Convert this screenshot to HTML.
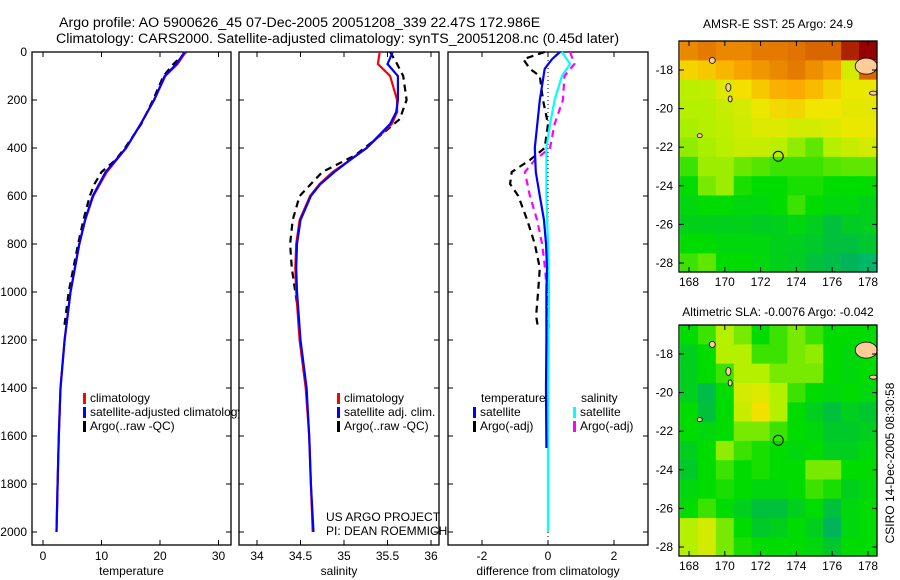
<!DOCTYPE html>
<html><head><meta charset="utf-8"><style>
body{margin:0;background:#fff}
svg{display:block;font-family:"Liberation Sans",sans-serif}
</style></head><body>
<svg id="fig" width="900" height="580" viewBox="0 0 900 580" xmlns="http://www.w3.org/2000/svg">
<rect width="900" height="580" fill="#fff"/>
<text x="59" y="27" font-size="14.2">Argo profile: AO 5900626_45 07-Dec-2005 20051208_339 22.47S 172.986E</text>
<text x="56" y="43" font-size="14.2">Climatology: CARS2000. Satellite-adjusted climatology: synTS_20051208.nc (0.45d later)</text>
<g id="g"></g>
</svg>
<script>
// ---- profile data ----
const depthT=[0,50,100,200,300,400,500,600,700,800,1000,1200,1400,1600,1800,2000];
const tempClim=[24.4,23,20.9,19,16.7,14.2,10.9,8.6,7.2,6.2,4.7,3.7,3.0,2.7,2.5,2.3];
const tempSat=[24.2,22.8,20.8,19,16.7,14.2,10.7,8.5,7.2,6.2,4.7,3.7,3.0,2.7,2.5,2.3];
const depthA=[0,50,100,200,300,400,450,500,550,600,700,800,1000,1150];
const tempArgo=[24.5,22.3,20.6,18.8,16.8,14.0,12.4,10.0,8.8,8.0,6.9,6.0,4.4,3.6];
const depthS=[0,50,100,200,250,300,400,450,500,550,600,700,800,900,1000,1200,1400,1600,1800,2000];
const salClim=[35.41,35.39,35.53,35.61,35.61,35.55,35.26,35.07,34.87,34.72,34.61,34.49,34.45,34.44,34.45,34.49,34.56,34.6,34.62,34.64];
const salSat=[35.56,35.5,35.62,35.62,35.6,35.53,35.26,35.07,34.89,34.73,34.62,34.5,34.46,34.45,34.46,34.5,34.57,34.6,34.62,34.65];
const depthSA=[0,50,100,200,280,350,430,500,600,700,800,900,1000,1100];
const salArgo=[35.53,35.61,35.68,35.72,35.64,35.41,35.13,34.75,34.49,34.41,34.38,34.4,34.44,34.48];
const depthD=[0,30,70,200,400,500,600,700,800,900,1000,1200,1400,1650];
const dTempSat=[0.36,0.12,-0.1,-0.25,-0.4,-0.37,-0.25,-0.12,-0.06,-0.03,-0.05,-0.05,-0.06,-0.05];
const depthDS=[0,50,100,200,300,400,600,800,1000,1500,2000];
const dSalSat=[0.42,0.67,0.42,0.2,0.06,-0.05,-0.05,0,0.03,0,0];
const depthDA=[0,30,70,100,200,300,400,450,500,550,600,700,800,900,1000,1100,1150];
const dTempArgo=[-0.1,-0.75,-0.55,-0.25,-0.15,0,-0.1,-0.55,-1.1,-1.15,-0.9,-0.63,-0.4,-0.25,-0.3,-0.36,-0.3];
const depthDM=[0,50,100,200,300,400,450,500,600,700,800,900,1000,1100,1150];
const dSalArgo=[0.67,0.8,0.5,0.45,0.2,0.06,-0.4,-0.7,-0.55,-0.33,-0.18,-0.09,-0.03,0,0.03];
// ---- map data (rows lat -17..-28, cols lon 168..178), normalised 0..1 ----
const mapLats=[-17,-18,-19,-20,-21,-22,-23,-24,-25,-26,-27,-28];
const mapLons=[168,169,170,171,172,173,174,175,176,177,178];
const sstGrid=[
[0.8,0.82,0.8,0.8,0.82,0.82,0.83,0.85,0.85,0.95,1],
[0.68,0.7,0.73,0.76,0.78,0.8,0.82,0.79,0.76,0.6,0.85],
[0.56,0.57,0.62,0.66,0.7,0.74,0.75,0.72,0.68,0.64,0.64],
[0.55,0.55,0.58,0.6,0.64,0.67,0.68,0.65,0.65,0.63,0.63],
[0.54,0.55,0.57,0.59,0.62,0.62,0.6,0.6,0.62,0.64,0.64],
[0.52,0.54,0.56,0.58,0.58,0.56,0.52,0.48,0.55,0.58,0.6],
[0.45,0.53,0.53,0.49,0.47,0.45,0.45,0.45,0.47,0.48,0.48],
[0.4,0.5,0.53,0.42,0.4,0.4,0.42,0.42,0.4,0.4,0.4],
[0.38,0.4,0.4,0.38,0.38,0.4,0.45,0.4,0.38,0.38,0.36],
[0.36,0.36,0.35,0.36,0.34,0.35,0.38,0.35,0.3,0.34,0.35],
[0.4,0.4,0.38,0.38,0.38,0.36,0.35,0.33,0.3,0.3,0.32],
[0.45,0.48,0.4,0.4,0.38,0.36,0.34,0.3,0.28,0.25,0.22]];
const slaGrid=[
[0.4,0.45,0.55,0.5,0.4,0.45,0.5,0.45,0.4,0.4,0.4],
[0.35,0.4,0.55,0.55,0.45,0.45,0.5,0.52,0.4,0.38,0.4],
[0.35,0.4,0.45,0.55,0.55,0.5,0.5,0.5,0.4,0.38,0.4],
[0.35,0.28,0.4,0.6,0.62,0.55,0.45,0.4,0.38,0.4,0.38],
[0.4,0.3,0.4,0.58,0.66,0.55,0.4,0.35,0.3,0.35,0.32],
[0.4,0.38,0.4,0.5,0.5,0.45,0.4,0.38,0.33,0.33,0.35],
[0.35,0.4,0.52,0.45,0.42,0.4,0.38,0.4,0.35,0.35,0.38],
[0.33,0.4,0.45,0.4,0.42,0.4,0.4,0.5,0.5,0.4,0.4],
[0.38,0.4,0.42,0.4,0.38,0.38,0.4,0.45,0.42,0.35,0.38],
[0.4,0.45,0.4,0.35,0.3,0.3,0.35,0.4,0.3,0.38,0.4],
[0.55,0.6,0.5,0.4,0.33,0.35,0.4,0.35,0.25,0.38,0.4],
[0.55,0.6,0.5,0.42,0.4,0.4,0.4,0.38,0.32,0.4,0.4]];
const depthTicks=[0,200,400,600,800,1000,1200,1400,1600,1800,2000];
const tempTicks=[0,10,20,30];
const salTicks=[34,34.5,35,35.5,36];
const diffTicks=[-2,0,2];
const latTicks=[-18,-20,-22,-24,-26,-28];
const lonTicks=[168,170,172,174,176,178];

const NS='http://www.w3.org/2000/svg';
const G=document.getElementById('g');
function mk(tag,attrs,parent){const e=document.createElementNS(NS,tag);for(const k in attrs)e.setAttribute(k,attrs[k]);(parent||G).appendChild(e);return e;}
const yD=d=>52+d*0.24;
const P1={x0:32,x1:231,sx:v=>43+v*5.85};
const P2={x0:239,x1:439,sx:v=>257+(v-34)*87};
const P3={x0:448,x1:648,sx:v=>548+v*33};
const pTop=52,pBot=545;

function panel(P,name,ticks,lab,xlabel){
  const r=mk('rect',{x:P.x0,y:pTop,width:P.x1-P.x0,height:pBot-pTop,fill:'#fff',stroke:'#000','stroke-width':1.3});
  
  
  ticks.forEach((t,i)=>{const x=P.sx(t);
    mk('line',{x1:x,x2:x,y1:pTop,y2:pTop+5,stroke:'#000'});
    mk('line',{x1:x,x2:x,y1:pBot,y2:pBot-5,stroke:'#000'});
    const tx=mk('text',{x:x,y:pBot+15,'font-size':12,'text-anchor':'middle'});tx.textContent=lab[i];
    
    
  });
  depthTicks.forEach(d=>{mk('line',{x1:P.x0,x2:P.x0+5,y1:yD(d),y2:yD(d),stroke:'#000'});mk('line',{x1:P.x1,x2:P.x1-5,y1:yD(d),y2:yD(d),stroke:'#000'});});
  const xl=mk('text',{x:(P.x0+P.x1)/2,y:pBot+30,'font-size':12,'text-anchor':'middle'});xl.textContent=xlabel;
  
  
}
function line(P,vals,deps,color,dash,name){
  const pts=vals.map((v,i)=>P.sx(v).toFixed(1)+','+yD(deps[i]).toFixed(1)).join(' ');
  const a={points:pts,fill:'none',stroke:color,'stroke-width':2.2};
  if(dash)a['stroke-dasharray']='7,5';
  const e=mk('polyline',a);
  
  
}
function legend(x,y,color,text,name){
  mk('rect',{x:x,y:y-5,width:3,height:11,fill:color});
  const t=mk('text',{x:x+7,y:y+4,'font-size':12});t.textContent=text;
  
  
}
// panel 1
panel(P1,'temperature-panel',tempTicks,['0','10','20','30'],'temperature');
depthTicks.forEach(d=>{const t=mk('text',{x:27,y:yD(d)+4,'font-size':12,'text-anchor':'end'});t.textContent=d;
  
  });
line(P1,tempArgo,depthA,'#000',true,'temp-argo-line');
line(P1,tempClim,depthT,'#f00',false,'temp-climatology-line');
line(P1,tempSat,depthT,'#00f',false,'temp-satellite-line');
legend(83,398,'#f00','climatology','legend-climatology');
legend(83,412,'#00f','satellite-adjusted climatology','legend-satellite-adjusted');
legend(83,426,'#000','Argo(..raw -QC)','legend-argo');
// panel 2
panel(P2,'salinity-panel',salTicks,['34','34.5','35','35.5','36'],'salinity');
line(P2,salArgo,depthSA,'#000',true,'sal-argo-line');
line(P2,salClim,depthS,'#f00',false,'sal-climatology-line');
line(P2,salSat,depthS,'#00f',false,'sal-satellite-line');
legend(337,398,'#f00','climatology','legend2-climatology');
legend(337,412,'#00f','satellite adj. clim.','legend2-satellite');
legend(337,426,'#000','Argo(..raw -QC)','legend2-argo');
[['US ARGO PROJECT',517],['PI: DEAN ROEMMICH',531]].forEach(a=>{const t=mk('text',{x:326,y:a[1]+4,'font-size':12});t.textContent=a[0];
  
  });
// panel 3
panel(P3,'difference-panel',diffTicks,['-2','0','2'],'difference from climatology');
mk('line',{x1:548,x2:548,y1:pTop,y2:pBot,stroke:'#000','stroke-dasharray':'1,3'});
line(P3,dTempArgo,depthDA,'#000',true,'dtemp-argo-line');
line(P3,dSalArgo,depthDM,'#f0f',true,'dsal-argo-line');
line(P3,dSalSat,depthDS,'#0ff',false,'dsal-satellite-line');
line(P3,dTempSat,depthD,'#00f',false,'dtemp-satellite-line');
[['temperature',481,402],['salinity',581,402]].forEach(a=>{const t=mk('text',{x:a[1],y:a[2],'font-size':12});t.textContent=a[0];
  
  });
legend(473,412,'#00f','satellite','legend3-temp-satellite');
legend(473,426,'#000','Argo(-adj)','legend3-temp-argo');
legend(573,412,'#0ff','satellite','legend3-sal-satellite');
legend(573,426,'#f0f','Argo(-adj)','legend3-sal-argo');

// ---- maps ----
const stops=[[0,[0,215,215]],[0.25,[0,180,90]],[0.4,[0,220,0]],[0.55,[180,240,0]],[0.65,[240,230,0]],[0.75,[250,170,0]],[0.86,[215,95,0]],[1,[150,0,0]]];
function cmap(v){for(let i=1;i<stops.length;i++){if(v<=stops[i][0]){const a=stops[i-1],b=stops[i],t=(v-a[0])/(b[0]-a[0]);return 'rgb('+a[1].map((c,k)=>Math.round(c+(b[1][k]-c)*t)).join(',')+')';}}return 'rgb(150,0,0)';}
function drawMap(M,grid,name,title){
  const lx=v=>689+(v-168)*17.9;
  const LY=v=>M.y18+(-18-v)*19.3;
  const tt=mk('text',{x:778,y:M.ty,'font-size':12,'text-anchor':'middle'});tt.textContent=title;
  
  
  const cg=mk('g',{});
  
  
  grid.forEach((row,i)=>row.forEach((v,j)=>{
    const x=lx(mapLons[j]-0.5), y=LY(mapLats[i]+0.5);
    const x2=Math.min(877,lx(mapLons[j]+0.5)), y2=Math.min(M.yb,LY(mapLats[i]-0.5));
    const xa=Math.max(679,x), ya=Math.max(M.yt,y);
    mk('rect',{x:xa,y:ya,width:x2-xa+0.5,height:y2-ya+0.5,fill:cmap(v)},cg);
  }));
  [[169.3,-17.5,3,3],[170.2,-18.9,2.5,4],[170.3,-19.5,2,3],[168.6,-21.4,2.5,2],[177.9,-17.8,11,8],[178.3,-19.2,4,2]].forEach(a=>{
    mk('ellipse',{cx:lx(a[0]),cy:LY(a[1]),rx:a[2],ry:a[3],fill:'#ffcc99',stroke:'#000','stroke-width':0.8});});
  mk('circle',{cx:lx(172.986),cy:LY(-22.47),r:5,fill:'none',stroke:'#000','stroke-width':1});
  const fr=mk('rect',{x:679,y:M.yt,width:198,height:M.yb-M.yt,fill:'none',stroke:'#000','stroke-width':1.3});
  
  
  latTicks.forEach(v=>{const y=LY(v);mk('line',{x1:679,x2:684,y1:y,y2:y,stroke:'#000'});mk('line',{x1:877,x2:872,y1:y,y2:y,stroke:'#000'});
    const t=mk('text',{x:673,y:y+4,'font-size':12,'text-anchor':'end'});t.textContent=v;
    
    });
  lonTicks.forEach(v=>{const x=lx(v);mk('line',{x1:x,x2:x,y1:M.yt,y2:M.yt+5,stroke:'#000'});mk('line',{x1:x,x2:x,y1:M.yb,y2:M.yb-5,stroke:'#000'});
    const t=mk('text',{x:x,y:M.yb+14,'font-size':12,'text-anchor':'middle'});t.textContent=v;
    
    });
}
drawMap({y18:70,yt:41,yb:272,ty:28},sstGrid,'sst-map','AMSR-E SST: 25 Argo: 24.9');
drawMap({y18:354,yt:325,yb:556,ty:316},slaGrid,'sla-map','Altimetric SLA: -0.0076 Argo: -0.042');
const cs=mk('text',{x:0,y:0,'font-size':12,'text-anchor':'middle',transform:'translate(894,463) rotate(-90)'});
cs.textContent='CSIRO 14-Dec-2005 08:30:58';


</script>
</body></html>
